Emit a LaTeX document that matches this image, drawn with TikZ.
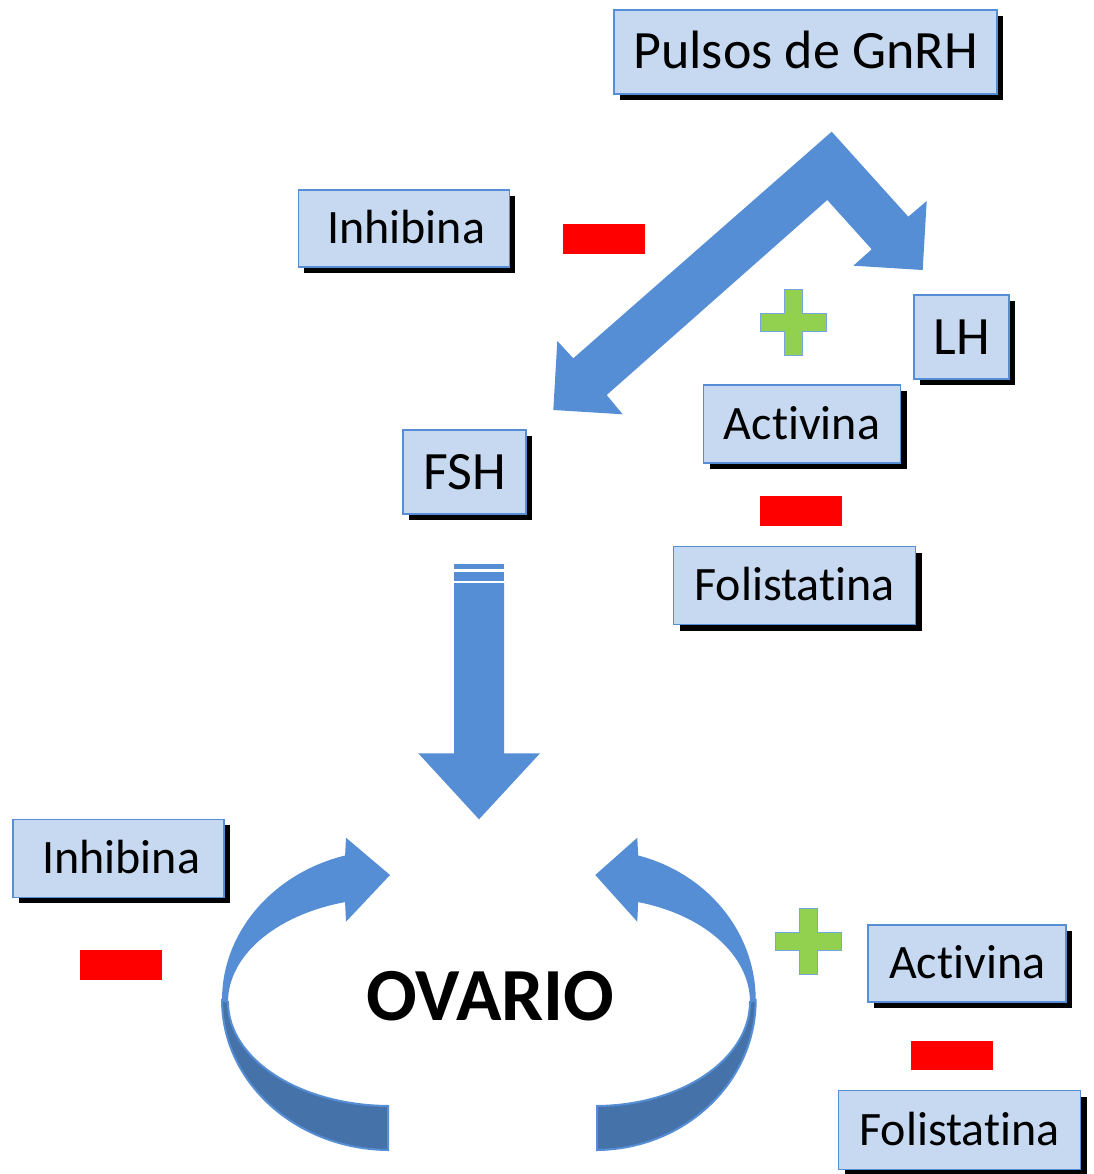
\documentclass[tikz,border=0pt]{standalone}
\usepackage{fontspec}
\setmainfont{Carlito}[Ligatures={NoCommon,NoContextual}]
\usetikzlibrary{shadows}

\definecolor{azul}{HTML}{558ED5}
\definecolor{azuloscuro}{HTML}{4672AA}
\definecolor{celeste}{HTML}{C6D9F1}
\definecolor{verde}{HTML}{92D050}

\tikzset{
  caja/.style={draw=azul, fill=celeste, line width=1.5pt, inner sep=0pt,
    drop shadow={shadow xshift=6pt, shadow yshift=-6pt, fill=black, opacity=1},
    font=\fontsize{48}{56}\selectfont, text height=30pt, text depth=0pt},
  cajagrande/.style={caja, font=\fontsize{54}{64}\selectfont, text height=34pt},
  menos/.style={fill=red, inner sep=0pt, minimum width=82pt, minimum height=29pt},
  mas/.pic={\draw[fill=verde, draw=azul!80, line width=1pt] (-9,-33) -- (9,-33) -- (9,-9) -- (33,-9) -- (33,9) -- (9,9)
    -- (9,33) -- (-9,33) -- (-9,9) -- (-33,9) -- (-33,-9) -- (-9,-9) -- cycle;}
}

\newcommand{\flechaovario}{%
  \fill[azul] (390,1000) ++(254.5:168 and 150) arc[start angle=254.5, end angle=180, x radius=168, y radius=150]
    -- (228,1002) arc[start angle=180, end angle=253.9, x radius=162, y radius=104]
    -- (346,921.7) -- (390,875) -- (346,837.7) -- cycle;
  \draw[azul, fill=azuloscuro, line width=2pt] (228,1002) arc[start angle=180, end angle=90.7, x radius=162, y radius=104]
    -- (388,1150) arc[start angle=90.7, end angle=180, x radius=168, y radius=150] -- cycle;
}

\begin{document}
\begin{tikzpicture}[x=1pt, y=-1pt]
\useasboundingbox (0,0) rectangle (1093,1174);

\fill[azul] (831.7,131.7) -- (908.3,216.7) -- (926.7,201) -- (922.7,270) -- (853.3,265.7) -- (871.7,249.3)
  -- (827.3,200) -- (606.7,395) -- (622.7,414.3) -- (553.3,410) -- (557.3,341) -- (573.3,358.3) -- cycle;

\fill[azul] (454,564) rectangle (504,569);
\fill[azul] (454,571.7) rectangle (504,580.7);
\fill[azul] (454,583) -- (504,583) -- (504,753.3) -- (540,753.3) -- (479,819.3) -- (418.3,753.3) -- (454,753.3) -- cycle;

\flechaovario
\begin{scope}[shift={(495,0)}, xscale=-0.955, shift={(-495,0)}]
\flechaovario
\end{scope}

\node[cajagrande, minimum width=383pt, minimum height=84pt] (pulsos) at (805.5,52) {Pulsos de GnRH};
\node[caja, minimum width=211pt, minimum height=77pt] (inhibina1) at (403.8,228.7) {\hspace{5pt}Inhibina};
\node[cajagrande, minimum width=95pt, minimum height=84pt] (lh) at (961.5,337) {LH};
\node[caja, minimum width=197pt, minimum height=78pt] (activina1) at (802,424) {Activina};
\node[caja, minimum width=242pt, minimum height=78pt] (folistatina1) at (794.5,585.5) {Folistatina};
\node[cajagrande, minimum width=123pt, minimum height=84pt] (fsh) at (464.7,472) {FSH};
\node[caja, minimum width=211pt, minimum height=78pt] (inhibina2) at (118.7,858.3) {\hspace{5pt}Inhibina};
\node[caja, minimum width=198pt, minimum height=77pt] (activina2) at (967.2,963.4) {Activina};
\node[caja, minimum width=242pt, minimum height=79pt] (folistatina2) at (959.5,1130) {Folistatina};

\node[menos] (menos1) at (604.2,239) {};
\node[menos, minimum height=30pt] (menos2) at (801.2,511) {};
\node[menos, minimum height=30pt] (menos3) at (120.7,965) {};
\node[menos] (menos4) at (952.2,1055.4) {};
\pic at (793.3,322.5) {mas};
\pic at (808.3,941.7) {mas};

\node[font=\fontsize{75}{90}\selectfont\bfseries, anchor=base, inner sep=0pt] (ovario) at (490.5,1020) {OVARIO};
\end{tikzpicture}
\end{document}
